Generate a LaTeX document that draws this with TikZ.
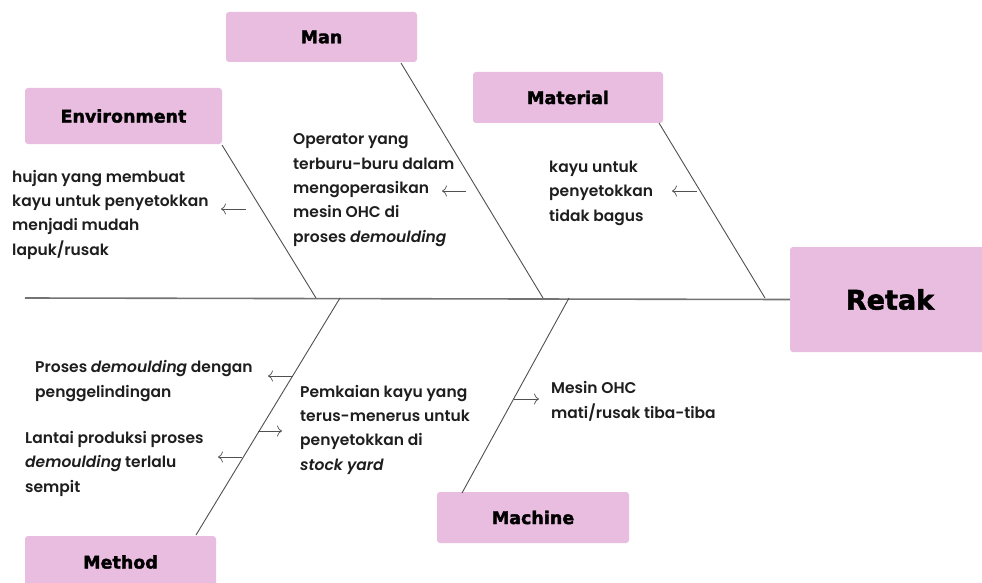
\documentclass[tikz,border=0pt]{standalone}
\usepackage{fontspec}
\usetikzlibrary{arrows.meta}
\newfontfamily\causefont{Poppins}[UprightFont=*-SemiBold, ItalicFont=*-SemiBoldItalic]
\newfontfamily\labelfont{DejaVu Sans}[UprightFont=* Bold, FakeBold=2]
\definecolor{boxpink}{HTML}{E8BDE0}
\definecolor{txt}{HTML}{1E1E1E}
\definecolor{bone}{HTML}{505050}
\tikzset{
  catbox/.style={fill=boxpink, draw=none, rounded corners=3pt, inner sep=0pt,
    font=\labelfont\fontsize{17.5}{20}\selectfont, text=black},
  cause/.style={anchor=base west, align=left, inner sep=0pt, text=txt,
    font=\causefont\fontsize{15.5}{24.3}\selectfont},
  bonestyle/.style={draw=bone, line width=0.9pt},
  spinestyle/.style={draw=bone!80, line width=1.6pt},
  causearrow/.style={draw=bone, line width=0.75pt, -{Computer Modern Rightarrow[length=5pt,width=11pt]}}
}
\begin{document}
\begin{tikzpicture}[x=1pt,y=-1pt]
\clip (0,0) rectangle (982,583);
\useasboundingbox (0,0) rectangle (982,583);
\fill[white] (0,0) rectangle (982,583);

% category boxes
\node[catbox, minimum width=197pt, minimum height=56pt] (env) at (123.5,116) {Environment};
\node[catbox, minimum width=191pt, minimum height=50pt] (man) at (321.5,37) {Man};
\node[catbox, minimum width=190pt, minimum height=51pt] (mat) at (568,97.5) {Material};
\node[catbox, minimum width=191pt, minimum height=52pt] (met) at (120.5,562) {Method};
\node[catbox, minimum width=192pt, minimum height=51pt] (mac) at (533,517.5) {Machine};
\node[catbox, minimum width=200pt, minimum height=105pt,
      font=\labelfont\fontsize{27}{30}\selectfont] (retak) at (890,299.5) {Retak};

% spine
\coordinate (tail) at (25,298);
\draw[spinestyle] (tail) -- (retak.west);

% bone joints on the spine
\coordinate (jE) at (316,298);
\coordinate (jMan) at (543,298);
\coordinate (jMat) at (765,298);
\coordinate (jMet) at (340,298);
\coordinate (jMac) at (569,298);
% bone starts at boxes
\coordinate (sE) at (222,145);
\coordinate (sMan) at (401,63);
\coordinate (sMat) at (659,123);
\coordinate (sMet) at (196,535);
\coordinate (sMac) at (462,493);

\draw[bonestyle] (sE) -- (jE);
\draw[bonestyle] (sMan) -- (jMan);
\draw[bonestyle] (sMat) -- (jMat);
\draw[bonestyle] (sMet) -- (jMet);
\draw[bonestyle] (sMac) -- (jMac);

% causes (anchor = baseline of the last line)
\node[cause] (cE) at (12,255) {hujan yang membuat\\kayu untuk penyetokkan\\menjadi mudah\\lapuk/rusak};
\node[cause] (cMan) at (293,242) {Operator yang\\terburu-buru dalam\\mengoperasikan\\mesin OHC di\\proses {\itshape demoulding}};
\node[cause] (cMat) at (549,221) {kayu untuk\\penyetokkan\\tidak bagus};
\node[cause] (cMet1) at (35,397) {Proses {\itshape demoulding} dengan\\penggelindingan};
\node[cause] (cMet2) at (25,492) {Lantai produksi proses\\{\itshape demoulding} terlalu\\sempit};
\node[cause] (cMet3) at (300,470) {Pemkaian kayu yang\\terus-menerus untuk\\penyetokkan di\\{\itshape stock yard}};
\node[cause] (cMac) at (551,418) {Mesin OHC\\mati/rusak tiba-tiba};

% cause arrows
\coordinate (aE1) at (246,209); \coordinate (aE2) at (221,209);
\coordinate (aMan1) at (466,191); \coordinate (aMan2) at (442,191);
\coordinate (aMat1) at (697,191); \coordinate (aMat2) at (672,191);
\coordinate (aMet11) at (293,376); \coordinate (aMet12) at (268,376);
\coordinate (aMet21) at (242,457); \coordinate (aMet22) at (218,457);
\coordinate (aMet31) at (258,431); \coordinate (aMet32) at (282,431);
\coordinate (aMac1) at (514,399); \coordinate (aMac2) at (539,399);
\draw[causearrow] (aE1) -- (aE2);
\draw[causearrow] (aMan1) -- (aMan2);
\draw[causearrow] (aMat1) -- (aMat2);
\draw[causearrow] (aMet11) -- (aMet12);
\draw[causearrow] (aMet21) -- (aMet22);
\draw[causearrow] (aMet31) -- (aMet32);
\draw[causearrow] (aMac1) -- (aMac2);
\end{tikzpicture}
\end{document}
